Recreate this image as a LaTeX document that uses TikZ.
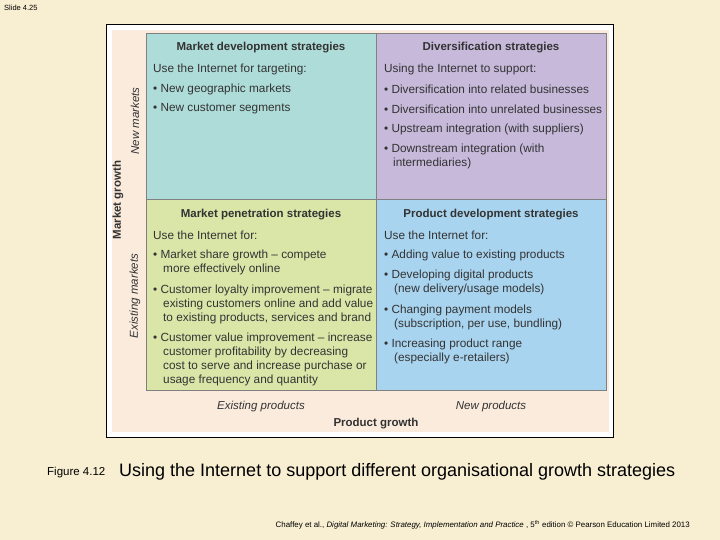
\documentclass[tikz,border=0pt]{standalone}
\usepackage{fontspec}
\setmainfont{Liberation Sans}
\begin{document}
\begin{tikzpicture}[x=1pt,y=-1pt,
  txt/.style={anchor=west,inner sep=0pt,text=black!80,font=\fontsize{11.8}{14}\selectfont},
  ttl/.style={inner sep=0pt,text=black!80,font=\fontsize{11.5}{14}\selectfont\bfseries},
  ax/.style={inner sep=0pt,text=black!80,font=\fontsize{11.5}{14}\selectfont\itshape}]
\definecolor{bg}{HTML}{F8EED2}
\definecolor{panel}{HTML}{FBEBDD}
\definecolor{qtl}{HTML}{AEDCD8}
\definecolor{qtr}{HTML}{C6B9DA}
\definecolor{qbl}{HTML}{D9E6A8}
\definecolor{qbr}{HTML}{A9D4EF}
\fill[bg] (0,0) rectangle (720,540);
\useasboundingbox (0,0) rectangle (720,540);
\draw[fill=white,line width=0.8pt] (106,24) rectangle (613,437);
\fill[panel] (112,30) rectangle (609,432);
\draw[fill=qtl,draw=black!50] (146,33) rectangle (376,199);
\draw[fill=qtr,draw=black!50] (376,33) rectangle (606,199);
\draw[fill=qbl,draw=black!50] (146,199) rectangle (376,390);
\draw[fill=qbr,draw=black!50] (376,199) rectangle (606,390);
\node[font=\fontsize{7.5}{8}\selectfont,anchor=west,inner sep=0pt] (slide) at (4,8) {Slide 4.25};
% TL
\node[ttl] (t1) at (261,48) {Market development strategies};
\node[txt] (a1) at (153,69) {Use the Internet for targeting:};
\node[txt] (a2) at (153,89) {• New geographic markets};
\node[txt] (a3) at (153,109) {• New customer segments};
% TR
\node[ttl] (t2) at (491,48) {Diversification strategies};
\node[txt] (b1) at (384,69) {Using the Internet to support:};
\node[txt] (b2) at (384,89) {• Diversification into related businesses};
\node[txt] (b3) at (384,109) {• Diversification into unrelated businesses};
\node[txt] (b4) at (384,129) {• Upstream integration (with suppliers)};
\node[txt] (b5) at (384,149) {• Downstream integration (with};
\node[txt] (b6) at (393,163) {intermediaries)};
% BL
\node[ttl] (t3) at (261,215) {Market penetration strategies};
\node[txt] (c1) at (153,235) {Use the Internet for:};
\node[txt] (c2) at (153,255) {• Market share growth – compete};
\node[txt] (c3) at (163,269) {more effectively online};
\node[txt] (c4) at (153,290) {• Customer loyalty improvement – migrate};
\node[txt] (c5) at (163,304) {existing customers online and add value};
\node[txt] (c6) at (163,318) {to existing products, services and brand};
\node[txt] (c7) at (153,338) {• Customer value improvement – increase};
\node[txt] (c8) at (163,352) {customer profitability by decreasing};
\node[txt] (c9) at (163,366) {cost to serve and increase purchase or};
\node[txt] (c10) at (163,380) {usage frequency and quantity};
% BR
\node[ttl] (t4) at (491,215) {Product development strategies};
\node[txt] (d1) at (384,235) {Use the Internet for:};
\node[txt] (d2) at (384,255) {• Adding value to existing products};
\node[txt] (d3) at (384,275) {• Developing digital products};
\node[txt] (d4) at (394,289) {(new delivery/usage models)};
\node[txt] (d5) at (384,310) {• Changing payment models};
\node[txt] (d6) at (394,324) {(subscription, per use, bundling)};
\node[txt] (d7) at (384,344) {• Increasing product range};
\node[txt] (d8) at (394,358) {(especially e-retailers)};
% axes
\node[ttl,rotate=90] (mg) at (118,200) {Market growth};
\node[ax,rotate=90] (nm) at (135,121) {New markets};
\node[ax,rotate=90] (em) at (135,296) {Existing markets};
\node[ax] (ep) at (261,407) {Existing products};
\node[ax] (np) at (491,407) {New products};
\node[ttl] (pg) at (376,424) {Product growth};
% caption
\node[anchor=west,inner sep=0pt,font=\fontsize{11.5}{12}\selectfont] (fig) at (47,473) {Figure 4.12};
\node[anchor=west,inner sep=0pt,font=\fontsize{18}{20}\selectfont] (cap) at (119,472) {Using the Internet to support different organisational growth strategies};
\node[anchor=east,inner sep=0pt,font=\fontsize{7.9}{9}\selectfont] (cite) at (690,525) {Chaffey et al., \textit{Digital Marketing: Strategy, Implementation and Practice} , 5\textsuperscript{th} edition © Pearson Education Limited 2013};
\end{tikzpicture}
\end{document}
